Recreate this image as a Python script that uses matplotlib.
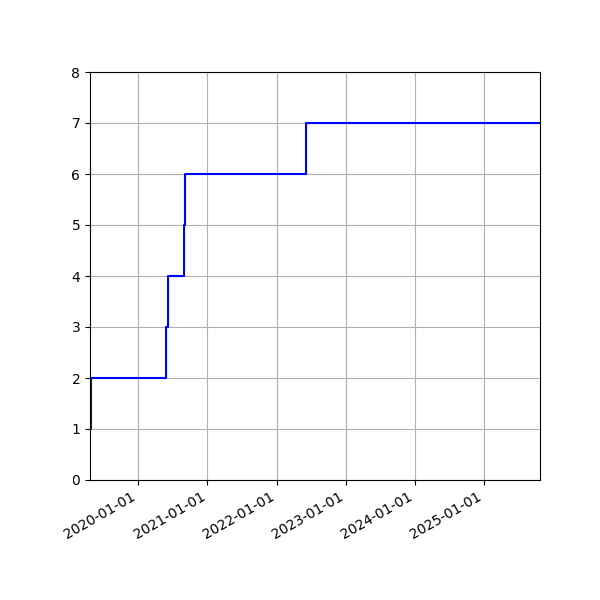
import matplotlib
matplotlib.use("Agg")
import matplotlib.pyplot as plt
import matplotlib.dates as mdates
import numpy as np

# step data
dates = np.array(['2019-04-22', '2019-04-25', '2020-05-28', '2020-06-08',
                  '2020-08-29', '2020-09-06', '2022-06-03', '2025-10-23'],
                 dtype='datetime64[D]')
counts = [1, 2, 3, 4, 5, 6, 7, 7]

fig, ax = plt.subplots(figsize=(6, 6), dpi=100)
ax.plot(dates, counts, drawstyle='steps-post', c='blue')
ax.set_xlim(dates[0], dates[-1])
ax.set_ylim(0, 8)
ax.grid(True)
ax.xaxis.set_major_locator(mdates.YearLocator())
ax.xaxis.set_major_formatter(mdates.DateFormatter('%Y-%m-%d'))
fig.autofmt_xdate()
fig.subplots_adjust(left=0.15, right=0.9, top=0.88, bottom=0.2)
fig.savefig('out.png')
